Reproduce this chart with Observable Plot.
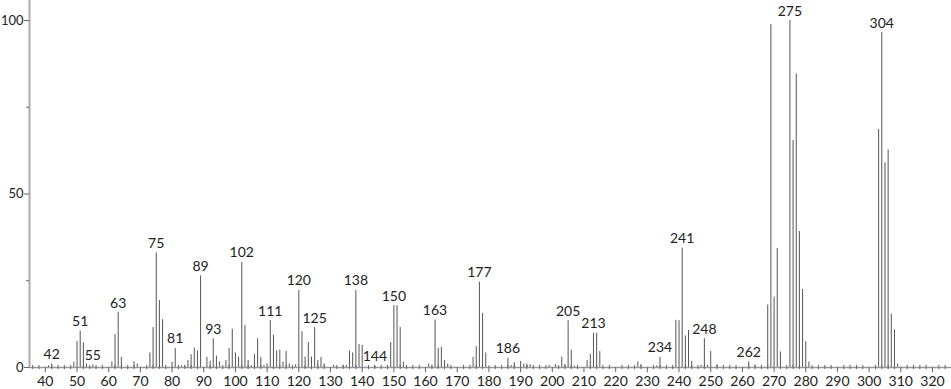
<!DOCTYPE html>
<html><head><meta charset="utf-8">
<script src="https://cdn.jsdelivr.net/npm/d3@7"></script>
<script src="https://cdn.jsdelivr.net/npm/@observablehq/plot@0.6"></script>
<style>body{margin:0;background:#fff} svg{display:block}</style>
</head><body><div id="chart"></div>
<script>
// m/z values and relative intensities
const mz = [41,42,49,50,51,52,53,55,61,62,63,64,68,69,73,74,75,76,77,80,81,83,84,85,86,87,88,89,91,92,93,94,95,97,98,99,100,101,102,103,104,105,106,107,108,109,110,111,112,113,114,115,116,117,119,120,121,122,123,124,125,126,127,128,131,134,135,136,137,138,139,140,144,149,150,151,152,153,161,162,163,164,165,166,167,175,176,177,178,179,180,186,187,188,190,191,192,193,199,201,203,204,205,206,207,211,212,213,214,215,227,228,233,234,239,240,241,242,243,244,247,248,249,250,252,262,264,268,269,270,271,272,275,276,277,278,279,280,281,303,304,305,306,307,308,309];
const intensity = [0.5,1.0,1.5,7.5,10.5,7.1,1.0,0.8,1.6,9.5,15.8,2.9,1.7,1.0,4.2,11.5,33,19.3,13.8,1.5,5.5,0.5,0.5,2,3.7,5.6,4.8,26.4,2.9,1.8,8.3,3.3,1.6,2,5.5,11,4.2,3,30.3,12.1,2,0.5,3.7,8.3,2.9,0.5,1,13.5,9.3,4.8,5,1.6,4.6,1,0.8,22.2,10.3,3,7.2,3,11.5,2,2.9,1,0.6,0.6,0.6,4.7,4.2,22.2,6.6,6.4,0.5,7.2,17.8,17.8,11.5,1.6,1,0.5,13.7,5.5,5.8,2,1,2.9,6,24.6,15.6,4.2,0.5,2.7,0.6,1.4,1.7,1,1,0.8,0.6,0.8,3,0.8,13.5,5,0.4,2,3.8,9.9,9.9,4.6,1.6,0.8,0.5,2.9,13.6,13.5,34.4,9.1,10.7,1.8,0.6,8.3,0.6,4.6,0.8,1.6,0.7,18,98.8,20.3,34.3,4.5,100,65.4,84.6,39.2,22.5,7.4,1.6,68.6,96.5,59,62.7,15.4,10.8,1];
const labelMz = [42,51,55,63,75,81,89,93,102,111,120,125,138,144,150,163,177,186,205,213,234,241,248,262,275,304];

const xTickLabels = [40,50,60,70,80,90,100,110,120,130,140,150,160,170,180,190,200,210,220,230,240,250,260,270,280,290,300,310,320];
const xMinorTicks = d3.range(36, 327, 2).filter(v => v % 10 !== 0);
const yTickLabels = [0,50,100];
const yMinorTicks = [25,75];

const peaks = mz.map((m, i) => ({mz: m, i: intensity[i]}));
const labels = labelMz.map(m => ({mz: m, i: intensity[mz.indexOf(m)]}));

const X0 = 35;
const pxPerUnit = 922 / 291;

const chart = Plot.plot({
  width: 951,
  height: 389,
  marginLeft: 29,
  marginRight: 0,
  marginTop: 20,
  marginBottom: 22,
  x: {domain: [X0, 326], axis: null},
  y: {domain: [0, 100], axis: null},
  style: {fontFamily: "Lato, 'Open Sans', sans-serif", fontSize: "14px", background: "#fff"},
  marks: [
    Plot.ruleX(peaks, {x: "mz", y1: 0, y2: "i", stroke: "#555", strokeWidth: 1}),
    Plot.ruleY([0], {stroke: "#999", strokeWidth: 1.5}),
    Plot.ruleX([X0], {y1: 0, y2: 105.8, stroke: "#aaa", strokeWidth: 2}),
    Plot.ruleX(xMinorTicks, {x: d => d, y1: -0.6, y2: 0.6, stroke: "#666"}),
    Plot.ruleX(xTickLabels, {x: d => d, y1: 0, y2: -1.5, stroke: "#666"}),
    Plot.text(xTickLabels, {x: d => d, y: 0, dy: 14, text: d => String(d), fontSize: 14, fill: "#222"}),
    Plot.ruleY(yTickLabels, {y: d => d, x1: X0 - 5 / pxPerUnit, x2: X0, stroke: "#666"}),
    Plot.ruleY(yMinorTicks, {y: d => d, x1: X0 - 3 / pxPerUnit, x2: X0, stroke: "#666"}),
    Plot.text(yTickLabels, {x: X0, y: d => d, dx: -6, textAnchor: "end", text: d => String(d), fontSize: 13, fill: "#222", style: "letter-spacing:-0.3px"}),
    Plot.text(labels, {x: "mz", y: "i", text: d => String(d.mz), dy: -5, lineAnchor: "bottom", fontSize: 14, fill: "#222"})
  ]
});
document.getElementById("chart").appendChild(chart);
</script>
</body></html>
